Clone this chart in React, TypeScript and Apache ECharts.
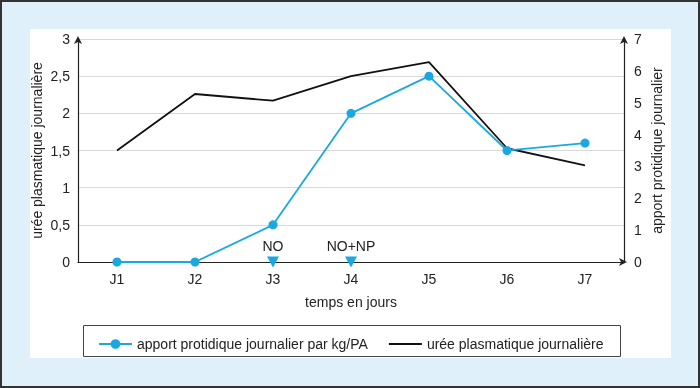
import React, { useEffect, useRef } from "react";
import * as echarts from "echarts";

const days = ["J1", "J2", "J3", "J4", "J5", "J6", "J7"];
const apportProtidique = [0, 0, 0.5, 2, 2.5, 1.5, 1.6];
const ureePlasmatique = [1.5, 2.26, 2.17, 2.5, 2.69, 1.53, 1.3];
const eventDays = ["J3", "J4"];
const eventLabels = ["NO", "NO+NP"];
const leftTicks = { min: 0, max: 3, interval: 0.5 };
const rightTicks = { min: 0, max: 7, interval: 1 };

const FONT = "Liberation Sans";
const FS = 14;
const TXT = "#222";
const BLUE = "#19a8e0";

export default function App() {
  const ref = useRef<HTMLDivElement>(null);
  useEffect(() => {
    if (!ref.current) return;
    const chart = echarts.init(ref.current, undefined, { renderer: "svg" });
    const fmt = (v: number) => String(v).replace(".", ",");
    const axisLine = {
      show: true,
      symbol: ["none", "arrow"],
      symbolSize: [6, 8],
      symbolOffset: [0, 3],
      lineStyle: { color: "#222", width: 1.2 },
    };
    chart.setOption({
      animation: false,
      textStyle: { fontFamily: FONT, color: TXT },
      graphic: [
        {
          type: "rect",
          z: -10,
          silent: true,
          shape: { x: 1, y: 1, width: 698, height: 386 },
          style: { fill: "#dff0fa", stroke: "#333", lineWidth: 2 },
        },
        {
          type: "rect",
          z: -9,
          silent: true,
          shape: { x: 30, y: 29, width: 641, height: 329 },
          style: { fill: "#fff" },
        },
        {
          type: "rect",
          z: -8,
          silent: true,
          shape: { x: 83.5, y: 325.5, width: 537, height: 31 },
          style: { fill: "#fff", stroke: "#444", lineWidth: 1 },
        },
      ],
      legend: {
        data: [
          { name: "apport protidique journalier par kg/PA" },
          { name: "urée plasmatique journalière", itemStyle: { opacity: 0 } },
        ],
        left: 93,
        top: 332,
        itemWidth: 33,
        itemHeight: 12,
        itemGap: 20,
        textStyle: { fontFamily: FONT, fontSize: FS, color: TXT },
      },
      grid: { left: 78, right: 76, top: 39, bottom: 126, containLabel: false },
      xAxis: {
        type: "category",
        data: days,
        boundaryGap: true,
        name: "temps en jours",
        nameLocation: "middle",
        nameGap: 33,
        nameMoveOverlap: false,
        nameTextStyle: { fontFamily: FONT, fontSize: FS, color: TXT },
        axisLine,
        axisTick: { show: false },
        axisLabel: { margin: 10, fontFamily: FONT, fontSize: FS, color: TXT },
      },
      yAxis: [
        {
          type: "value",
          min: leftTicks.min,
          max: leftTicks.max,
          interval: leftTicks.interval,
          name: "urée plasmatique journalière",
          nameLocation: "middle",
          nameGap: 34,
          nameMoveOverlap: false,
          nameTextStyle: { fontFamily: FONT, fontSize: FS, color: TXT },
          axisLine,
          axisTick: { show: false },
          axisLabel: { margin: 8, fontFamily: FONT, fontSize: FS, color: TXT, formatter: fmt },
          splitLine: { show: true, lineStyle: { color: "#d9d9d9", width: 1 } },
        },
        {
          type: "value",
          position: "right",
          min: rightTicks.min,
          max: rightTicks.max,
          interval: rightTicks.interval,
          name: "apport protidique journalier",
          nameLocation: "middle",
          nameGap: 26,
          nameMoveOverlap: false,
          nameTextStyle: { fontFamily: FONT, fontSize: FS, color: TXT },
          axisLine,
          axisTick: { show: false },
          axisLabel: { margin: 10, fontFamily: FONT, fontSize: FS, color: TXT },
          splitLine: { show: false },
        },
      ],
      series: [
        {
          name: "apport protidique journalier par kg/PA",
          type: "line",
          yAxisIndex: 0,
          data: apportProtidique,
          symbol: "circle",
          symbolSize: 9,
          itemStyle: { color: BLUE },
          lineStyle: { color: BLUE, width: 1.8 },
          z: 3,
        },
        {
          name: "urée plasmatique journalière",
          type: "line",
          yAxisIndex: 0,
          data: ureePlasmatique,
          symbol: "none",
          itemStyle: { color: "#111" },
          lineStyle: { color: "#111", width: 1.8 },
          z: 2,
        },
        {
          name: "events",
          type: "scatter",
          yAxisIndex: 0,
          data: eventDays.map((d, i) => ({
            value: [d, 0],
            label: { formatter: eventLabels[i], color: TXT },
          })),
          symbol: "triangle",
          symbolRotate: 180,
          symbolSize: [12, 11],
          itemStyle: { color: BLUE, opacity: 1 },
          label: {
            show: true,
            position: "top",
            distance: 4,
            fontFamily: FONT,
            fontSize: FS,
            color: TXT,
          },
          z: 4,
        },
      ],
    });
    return () => chart.dispose();
  }, []);
  return (
    <div
      ref={ref}
      style={{ position: "fixed", left: 0, top: 0, width: 700, height: 388 }}
    />
  );
}
